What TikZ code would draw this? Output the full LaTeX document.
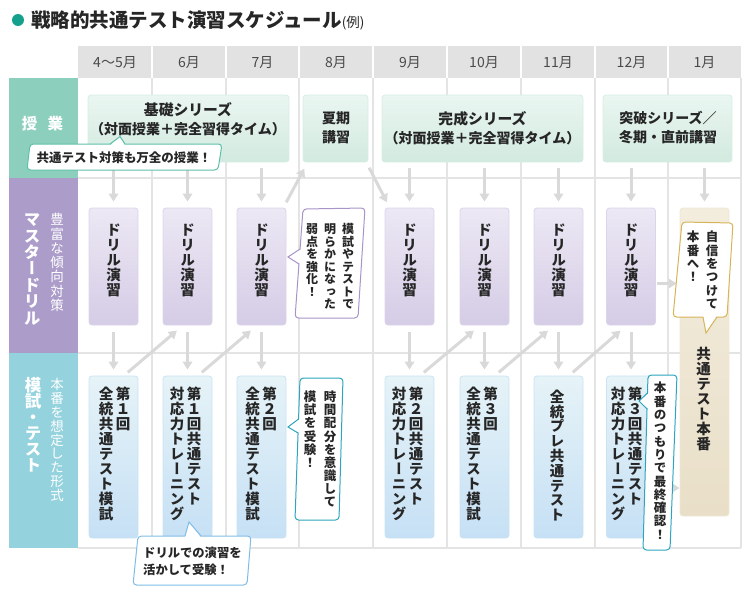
\documentclass[tikz,border=0pt]{standalone}
\usepackage{fontspec}
\setmainfont{Noto Sans CJK JP}
\newfontfamily\vfont[Script=CJK,RawFeature=+vert]{Noto Sans CJK JP}
\usetikzlibrary{arrows.meta,calc}
\definecolor{txt}{HTML}{262626}
\definecolor{mon}{HTML}{4A4A4A}
\definecolor{dot}{HTML}{14A08C}
\definecolor{hdr}{HTML}{E2E2E2}
\definecolor{gridc}{HTML}{E4E4E4}
\definecolor{arrc}{HTML}{D9D9D9}
\definecolor{labA}{HTML}{8DCFBD}
\definecolor{labB}{HTML}{AC9CCA}
\definecolor{labC}{HTML}{94D2DD}
\definecolor{ktop}{HTML}{EAF6F1}
\definecolor{kbot}{HTML}{D2EADF}
\definecolor{kbd}{HTML}{D8EDE4}
\definecolor{dtop}{HTML}{ECE8F4}
\definecolor{dbot}{HTML}{D5CCE6}
\definecolor{dbd}{HTML}{DCD4EA}
\definecolor{ttop}{HTML}{E6F3F7}
\definecolor{tbot}{HTML}{C6E0F5}
\definecolor{tbd}{HTML}{C9E3F3}
\definecolor{ftop}{HTML}{F3EDDE}
\definecolor{fbot}{HTML}{E9DFC8}
\definecolor{fbd}{HTML}{EFE7D5}
\definecolor{cA}{HTML}{5EC0AA}
\definecolor{cB}{HTML}{A894C8}
\definecolor{cC}{HTML}{D6B458}
\definecolor{cD}{HTML}{2CA5BD}
\definecolor{cE}{HTML}{80BDE6}

\ExplSyntaxOn
\dim_new:N \l_vt_pitch_dim
\cs_new_protected:Npn \vt_col:n #1
  {
    \vtop
      {
        \offinterlineskip
        \tl_map_inline:nn {#1}
          {
            \hbox_to_wd:nn {1em}
              { \hss \vrule width 0pt height 0.88\l_vt_pitch_dim depth 0.12\l_vt_pitch_dim \scan_stop: ##1 \hss }
          }
      }
  }
\NewDocumentCommand \vtext { O{1em} O{0.2em} m }
  {
    \dim_set:Nn \l_vt_pitch_dim {#1}
    \clist_set:Nn \l_tmpa_clist {#3}
    \clist_reverse:N \l_tmpa_clist
    \hbox:n { \clist_map_inline:Nn \l_tmpa_clist { \vt_col:n {##1} \kern #2 \scan_stop: } \unkern }
  }
\ExplSyntaxOff

% #1 colour, #2-#5 corners TL TR BR BL, #6 tail base 1, #7 tip, #8 tail base 2, #9 inward shift
\newcommand\callout[9]{%
  \draw[line width=1pt,draw=#1,fill=white,rounded corners=3.5pt] (#2) -- (#3) -- (#4) -- (#5) -- cycle;
  \fill[white] ($(#6)+#9$) -- (#7) -- ($(#8)+#9$) -- cycle;
  \draw[line width=1pt,draw=#1,line join=miter] (#6) -- (#7) -- (#8);
}

\begin{document}
\begin{tikzpicture}[x=1pt,y=-1pt,
  cellbox/.style={rounded corners=3pt,line width=0.8pt,inner sep=0pt,minimum width=49pt},
  kbox/.style={cellbox,draw=kbd,top color=ktop,bottom color=kbot,minimum height=67pt},
  dbox/.style={cellbox,draw=dbd,top color=dtop,bottom color=dbot,minimum height=117pt},
  tbox/.style={cellbox,draw=tbd,top color=ttop,bottom color=tbot,minimum height=162pt},
  finbox/.style={cellbox,draw=fbd,top color=ftop,bottom color=fbot,minimum height=308pt},
  vt/.style={inner sep=0pt,text=txt,anchor=north,font=\vfont\bfseries\fontsize{14.5pt}{15pt}\selectfont},
  ct/.style={inner sep=0pt,text=txt,anchor=north,font=\vfont\bfseries\fontsize{12.5pt}{13pt}\selectfont},
  lab/.style={inner sep=0pt,text=white,anchor=north,font=\vfont\bfseries\fontsize{16.5pt}{17pt}\selectfont},
  sublab/.style={inner sep=0pt,text=white,anchor=north,font=\vfont\fontsize{13.5pt}{14pt}\selectfont},
  ktxt/.style={inner sep=0pt,text=txt,align=center,font=\bfseries\fontsize{14pt}{19pt}\selectfont},
  htxt/.style={inner sep=0pt,text=txt,font=\bfseries\fontsize{12.5pt}{17pt}\selectfont},
  month/.style={inner sep=0pt,text=mon,font=\fontsize{14pt}{15pt}\selectfont},
  arr/.style={draw=arrc,line width=3pt,-{Triangle[length=8pt,width=9.5pt]}},
  gridline/.style={draw=gridc,line width=1.2pt}
]
\useasboundingbox (0,0) rectangle (750,600);

% ---- title
\fill[dot] (18,20) circle (6);
\node[anchor=west,inner sep=0pt,text=txt] (title) at (31,20)
  {{\bfseries\fontsize{19.5pt}{20pt}\selectfont 戦略的共通テスト演習スケジュール}\fontsize{13.5pt}{14pt}\selectfont(例)};

% ---- header
\fill[hdr] (78,46) rectangle (741,78);
\foreach \x in {152,226,299,373,447,521,595,668}
  \draw[white,line width=2pt] (\x,46) -- (\x,78);
\foreach \x/\m [count=\i] in {115/4〜5月,189/6月,262.5/7月,336/8月,410/9月,484/10月,558/11月,631.5/12月,704.5/1月}
  \node[month] (m\i) at (\x,62.5) {\m};

% ---- row label bands
\fill[labA] (9,78) rectangle (78,178);
\fill[labB] (9,178) rectangle (78,353);
\fill[labC] (9,353) rectangle (78,548);

% ---- grid
\foreach \x in {152,226,299,373,447,521,595,668,741}
  \draw[gridline] (\x,78) -- (\x,548);
\foreach \y in {178,353,548}
  \draw[gridline] (78,\y) -- (741,\y);

% ---- row labels
\node[inner sep=0pt,text=white,font=\bfseries\fontsize{15.5pt}{16pt}\selectfont] (lab1) at (42.5,124) {授\hspace{0.65em}業};
\node[lab] (lab2) at (32,211) {\vtext[16.4pt]{マスタードリル}};
\node[sublab] (lab2s) at (57,212) {\vtext[14.3pt]{豊富な傾向対策}};
\node[lab] (lab3) at (33,377) {\vtext[16pt]{模試・テスト}};
\node[sublab] (lab3s) at (57,377) {\vtext[13.9pt]{本番を想定した形式}};

% ---- row 1 boxes
\node[kbox,minimum width=201pt] (k1) at (188.5,128.5) {};
\node[kbox,minimum width=65pt] (k2) at (335.5,128.5) {};
\node[kbox,minimum width=201pt] (k3) at (482.5,128.5) {};
\node[kbox,minimum width=129pt] (k4) at (667.5,128.5) {};
\node[ktxt] (k1t) at (188,119.3) {{\fontsize{14.8pt}{19pt}\selectfont 基礎シリーズ}\\（対面授業＋完全習得タイム）};
\node[ktxt] (k2t) at (336,128) {夏期\\講習};
\node[ktxt] (k3t) at (482.5,128) {{\fontsize{14.8pt}{19pt}\selectfont 完成シリーズ}\\（対面授業＋完全習得タイム）};
\node[ktxt] (k4t) at (668,128) {突破シリーズ／\\冬期・直前講習};

% ---- row 2 drill boxes
\foreach \i/\x in {0/113.5,1/187.5,2/261.5,4/409.5,5/484.5,6/558.5,7/631}{
  \node[dbox] (d\i) at (\x,266.5) {};
  \node[vt] (d\i t) at (\x,222) {\vtext[15pt]{ドリル演習}};
}
\node[finbox] (f8) at (704.5,362) {};
\node[vt] (f8t) at (703.5,346) {\vtext[15pt]{共通テスト本番}};

% ---- row 3 boxes
\foreach \i/\x in {0/113.5,1/187.5,2/261.5,4/409.5,5/484.5,6/558.5,7/631}
  \node[tbox] (t\i) at (\x,457) {};
\node[vt] (t0t) at (114.5,386) {\vtext[15pt][2.5pt]{第１回,全統共通テスト模試}};
\node[vt] (t1t) at (185.5,386) {\vtext[15pt][2.5pt]{第１回共通テスト,対応力トレーニング}};
\node[vt] (t2t) at (261,386) {\vtext[15pt][2.5pt]{第２回,全統共通テスト模試}};
\node[vt] (t4t) at (407.5,386) {\vtext[15pt][2.5pt]{第２回共通テスト,対応力トレーニング}};
\node[vt] (t5t) at (482,386) {\vtext[15pt][2.5pt]{第３回,全統共通テスト模試}};
\node[vt] (t6t) at (557,389) {\vtext[14.8pt]{全統プレ共通テスト}};
\node[vt] (t7t) at (626.5,386) {\vtext[15pt][2.5pt]{第３回共通テスト,対応力トレーニング}};

% ---- arrows row1 -> row2
\foreach \d/\k in {d0/k1,d1/k1,d2/k1,d4/k3,d5/k3,d6/k3,d7/k4,f8/k4}
  \draw[arr,shorten <=6pt,shorten >=6pt] (\d.north |- \k.south) -- (\d.north);
\draw[arr,shorten <=6pt,shorten >=7pt] ([xshift=-3pt]d2.north east) -- ([xshift=5pt]k2.south west);
\draw[arr,shorten <=6pt,shorten >=6pt] ([xshift=-2pt]k2.south east) -- ([xshift=5pt]d4.north west);

% ---- arrows row2 -> row3
\foreach \i in {0,1,2,4,5,6,7}
  \draw[arr,shorten <=7pt,shorten >=6pt] (d\i.south) -- (t\i.north);
% ---- arrows row3 -> next drill
\foreach \a/\b in {0/1,1/2,4/5,5/6,6/7}
  \draw[arr,shorten <=5pt,shorten >=8pt] ([xshift=10.5pt]t\a.north) -- ([xshift=-4.5pt]d\b.south);
% ---- arrows into final
\draw[arr,shorten <=1pt,shorten >=3pt] ($(d7.east)+(0,17)$) -- ($(d7.east -| f8.west)+(0,17)$);
\draw[arr,shorten <=1pt,shorten >=0pt] ($(t7.east)+(0,31)$) -- ($(t7.east -| f8.west)+(0,31)$);

% ---- callouts
\callout{cA}{30,144}{222,144}{218,170}{27,170}{110,144}{120,136.5}{125,144}{(0,1.5)}
\node[htxt] (c1t) at (124,157.5) {共通テスト対策も万全の授業！};

\callout{cB}{303,209}{365,208}{358,318}{295,318}{300.06,249}{288,257}{298.96,264}{(1.5,0)}
\node[ct,font=\vfont\bfseries\fontsize{12pt}{13pt}\selectfont] (c2t) at (330,222.5) {\vtext[12.5pt][6pt]{模試やテストで,明らかになった,弱点を強化！}};

\callout{cC}{682,222}{733,223}{727,317}{673,317}{703,317}{706,333}{717,317}{(0,-1.5)}
\node[ct] (c3t) at (702.5,230) {\vtext[13.3pt][6.5pt]{自信をつけて,本番へ！}};

\callout{cD}{300,378}{343,378}{339,520}{295,520}{298.56,419}{288,427}{298.06,433}{(1.5,0)}
\node[ct] (c4t) at (320,390) {\vtext[13.1pt][7.5pt]{時間配分を意識して,模試を受験！}};

\callout{cD}{648,375}{677,375}{670,550}{643,550}{647.49,393}{639,401}{647.03,409}{(1.5,0)}
\node[ct] (c5t) at (660,381) {\vtext[13.3pt]{本番のつもりで最終確認！}};

\callout{cE}{138,536}{251,536}{247,585}{133,585}{185,536}{189,522}{201,536}{(0,1.5)}
\node[htxt,anchor=west,align=left,font=\bfseries\fontsize{12.3pt}{17pt}\selectfont] (c6t) at (143,561.5) {ドリルでの演習を\\活かして受験！};

\end{tikzpicture}
\end{document}
